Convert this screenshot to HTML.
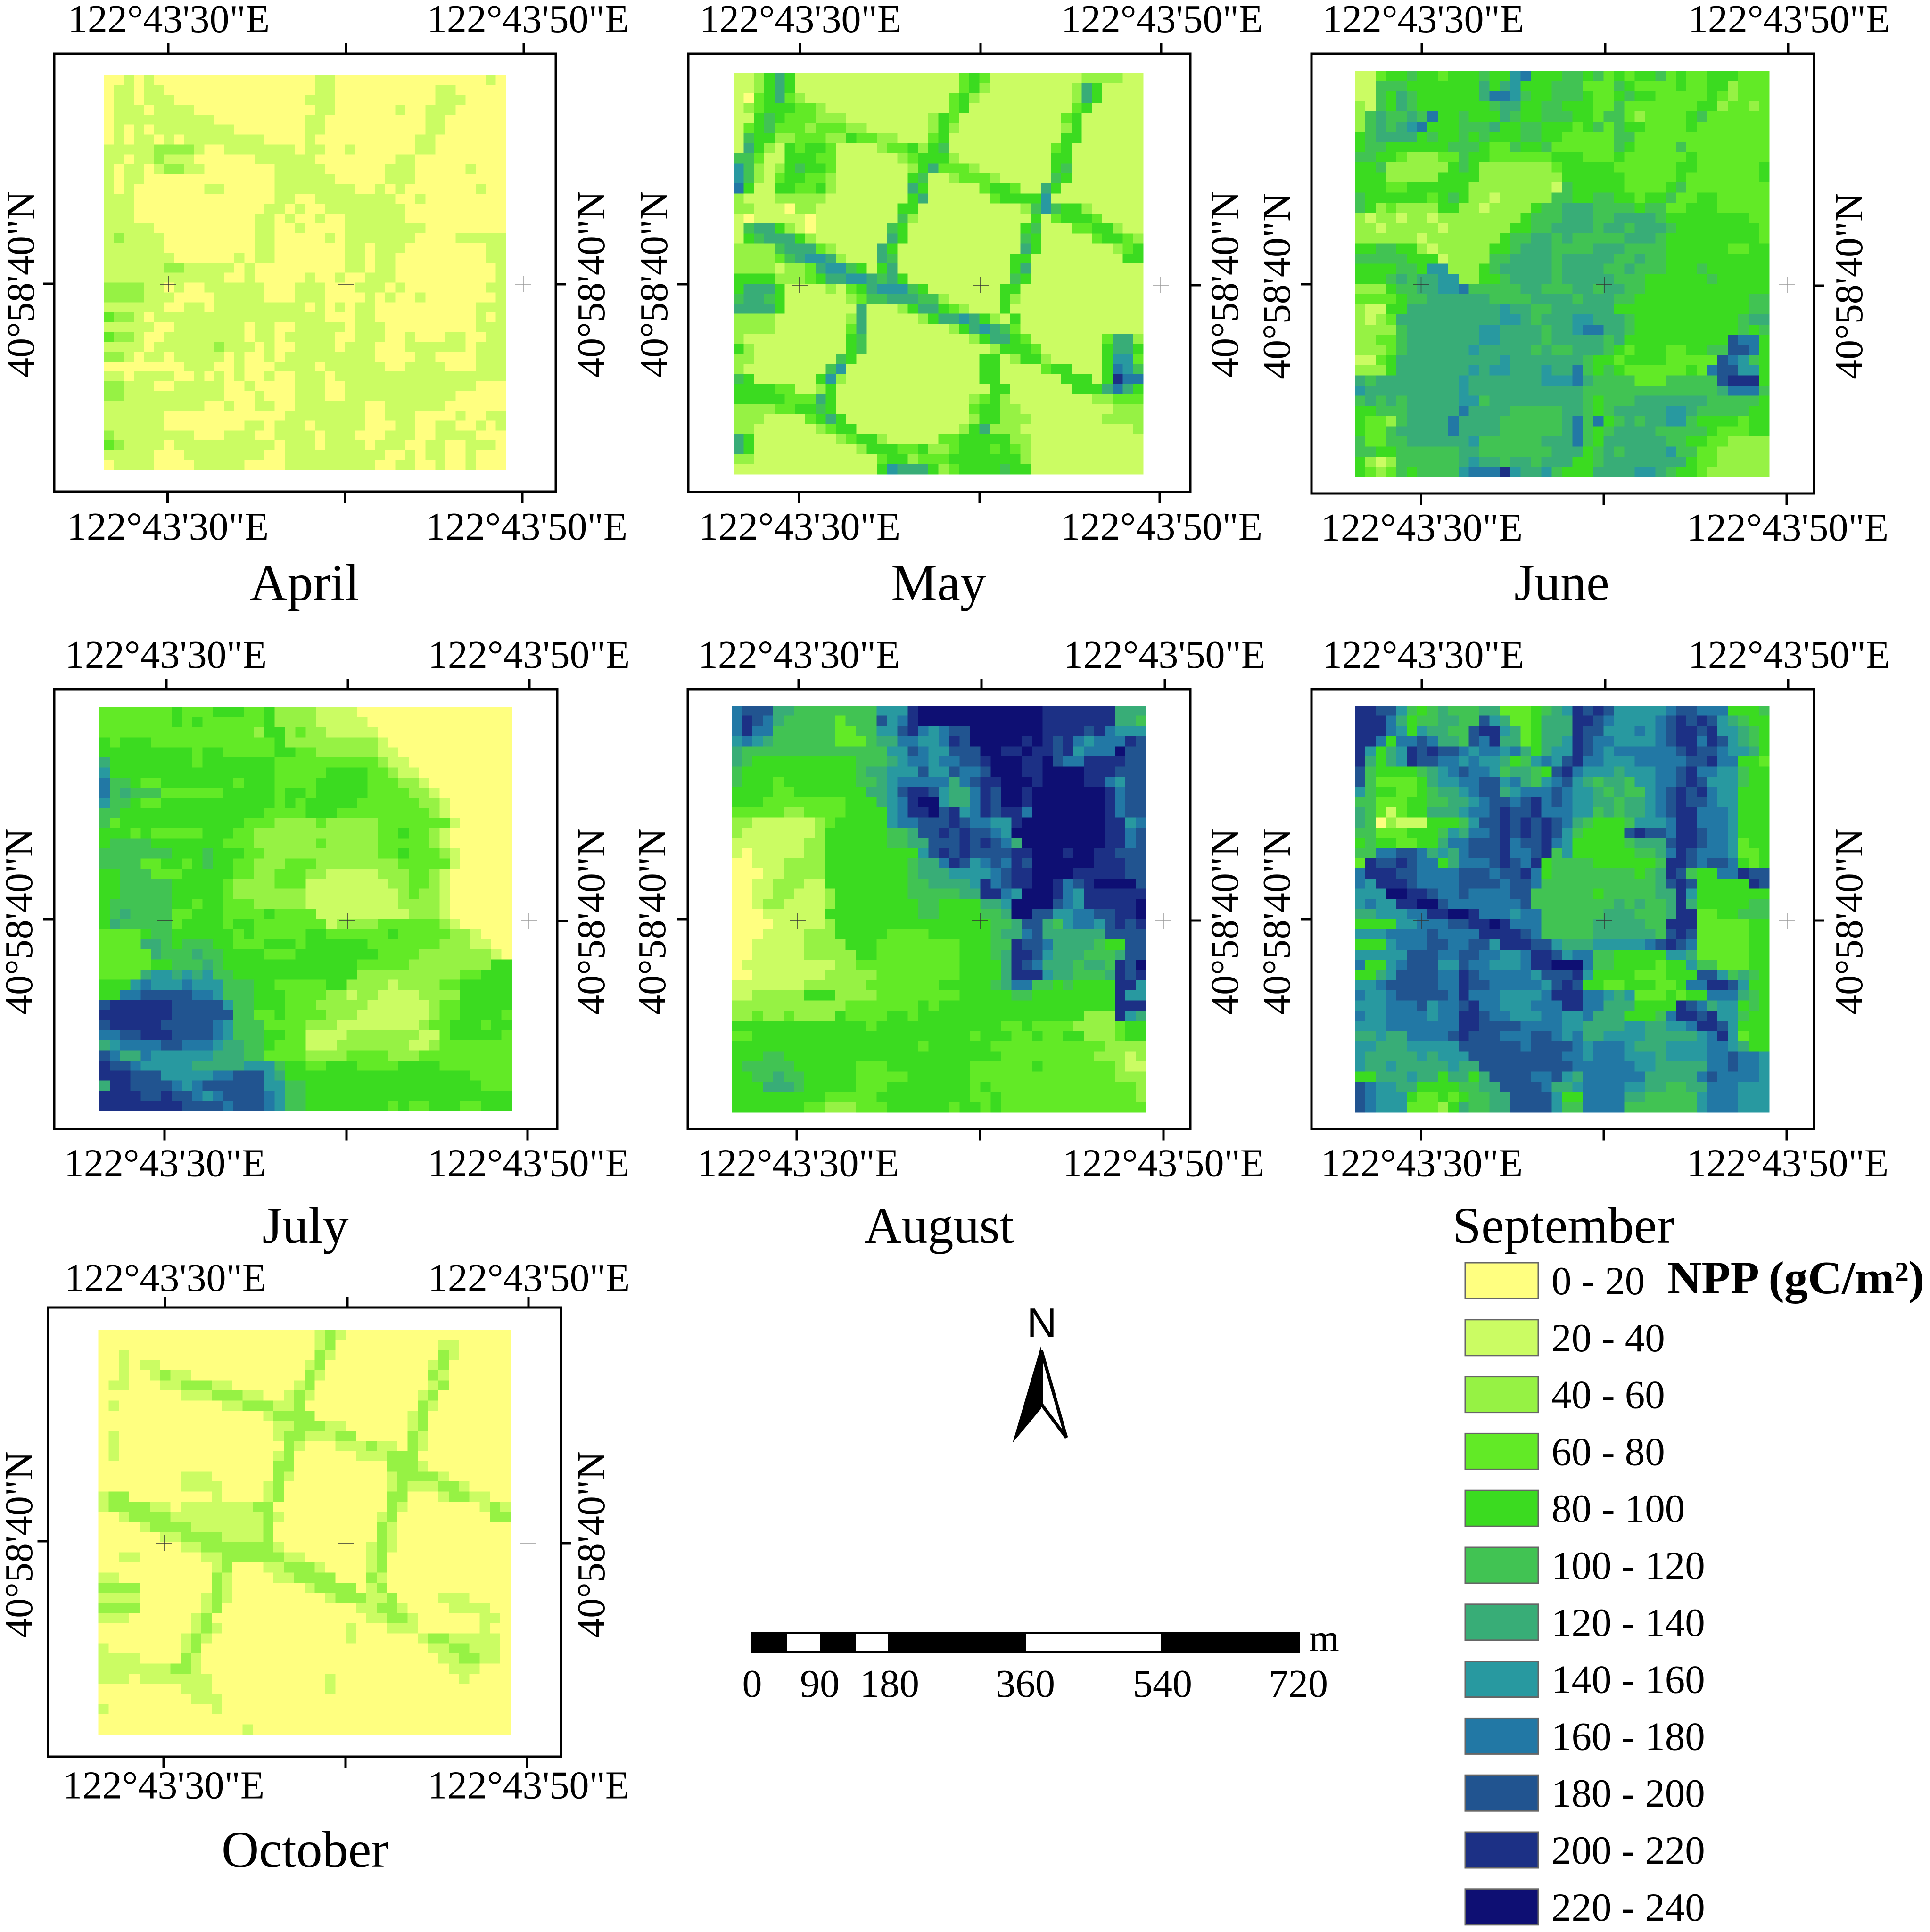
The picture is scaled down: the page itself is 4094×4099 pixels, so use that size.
<!DOCTYPE html>
<html lang="en">
<head>
<meta charset="utf-8">
<title>Monthly NPP maps</title>
<style>
html,body{margin:0;padding:0;background:#fff;}
svg{display:block;}
text{font-family:"Liberation Serif",serif;fill:#000;}
</style>
</head>
<body>
<svg id="chart" xmlns="http://www.w3.org/2000/svg" width="4094" height="4099" viewBox="0 0 4094 4099"></svg>
<script>
const classColors = ['#FFFF80','#CBFC63','#96F244','#62EA26','#3BDB20','#41C353','#38AD77','#2899A0','#2278A5','#215490','#1C3085','#0E0F73'];
const classLabels = ['0 - 20','20 - 40','40 - 60','60 - 80','80 - 100','100 - 120','120 - 140','140 - 160','160 - 180','180 - 200','200 - 220','220 - 240'];
const lonLabels = ['122°43\'30"E','122°43\'50"E'];
const latLabel = '40°58\'40"N';
const scaleLabels = ['0','90','180','360','540','720'];
const legendTitle = 'NPP (gC/m²)';

const aprilGrid = [
'0010100000 0000000000 0110000000 0000000010',
'0110110000 0000000000 0110000000 0001100000',
'0110111000 0000000000 1110000000 0001110000',
'0111011110 0000000000 0110000001 0011100000',
'0111111111 1000000000 1100000000 0011000000',
'0101011111 1110000000 1100000000 0011000000',
'0101101011 1111110000 1000000000 0110000000',
'1111122221 0011111110 1100100000 0110000000',
'1101121110 0000011111 1000000001 1000000000',
'1011012211 0000000111 1100000011 1000001000',
'1011000000 0000000111 1110000011 1000000000',
'1010000000 1100000111 1111100101 0000000100',
'1110000000 0000000110 0111111110 0100000000',
'1110000000 0000001101 0011111111 0000000000',
'1110000000 0000011010 0100111111 0000000000',
'1111100000 0000011001 0000111111 1100000000',
'1211110000 0000011000 0010111111 1000011111',
'1111110000 0000011000 0000110111 0000000011',
'1111111000 0001011000 0000110110 0000000011',
'1111112211 1110100000 0000110110 0000000001',
'1111111111 1100100000 1001001110 0000000001',
'2222110100 1111110001 1100011101 0000000011',
'2222111000 0111110001 1100001010 0100000001',
'1111110011 0111111111 0101011000 0000000111',
'3221011111 1111111111 1100011000 0000000101',
'1111100111 1111011001 1111011100 0000000111',
'3221001111 1111011011 1110011100 1000110011',
'1111011111 1211101001 1110111000 1111110111',
'2210110111 1101001011 1111111000 0110000111',
'0000000011 1001000111 1011111100 1111000111',
'1101111001 0101001001 1101111111 1111111111',
'2211100111 1100100001 1100111111 1111111000',
'2211111111 1100010001 1100111111 1111100000',
'1111111111 0010011001 1111110011 1111000000',
'1111110000 0000000011 1111110011 1000010011',
'1111110000 0000110111 0111110001 1001100101',
'2111111110 0011100111 1011100011 1001111000',
'3211110111 1111111011 1011110111 0011001110',
'1111100011 1111110011 1111111100 1011001000',
'0111100001 1111000011 1111111001 1001001000',
];

const mayGrid = [
'1124641111 1111111111 1134311111 1111222211',
'1124641111 1111111111 1134211111 1112641111',
'1034632111 1111111111 1342111111 1112641111',
'1234443321 1111111111 1341111111 1113411111',
'1145433322 2111111112 4311111111 1134111111',
'1345333233 3221111112 4211111111 1124111111',
'1544223332 2433221113 4111111111 1144111111',
'1642143443 1111233424 5111111111 1341111111',
'5531144433 1111112344 4211111111 1441111111',
'7521245443 1111111246 3332111111 1451111111',
'7521344332 1111111451 1233321111 1541111111',
'8411443342 1111111641 1111344311 6411111111',
'2111222221 1111111461 1111134444 7111111111',
'2211102211 1111114411 1111111125 7544211111',
'1011111011 1111115211 1111111114 1344431111',
'1566421011 1111154111 1111111145 1113344211',
'1456664211 1111164111 1111111154 1111134432',
'2222566632 1111641111 1111111164 1111111234',
'2222356776 2111651111 1111111441 1111111144',
'2222122367 7541461111 1111111461 1111111111',
'4444222346 6776564111 1111111541 1111111111',
'4666411112 1346777541 1111114411 1111111111',
'5665411111 1235566655 2111114211 1111111111',
'6666411111 1161112466 4321114111 1111111111',
'2222111111 1261111124 6676421411 1111111111',
'2222111111 1361111111 1246765311 1111111111',
'2111111111 1451111111 1112466431 1111113662',
'4211111111 1451111111 1111124443 1111114664',
'2211111111 5411111111 1111441244 2111114773',
'2111111115 7111111111 1111441111 3441114875',
'5411111147 2111111111 1111441111 1144414a88',
'4444331124 1111111111 1111144111 1114446864',
'4444433364 1111111111 1112342111 1111122333',
'2222334454 1111111111 1113442211 1111111222',
'2221111346 4111111111 1112442221 1111112222',
'2211111123 4411111111 1124622211 1111111112',
'6411111111 2344211111 3344444221 1111111111',
'6411111111 1124443342 2344434321 1111111111',
'2211111111 1111344233 3444444421 1111111111',
'1111111111 1111476664 2344445441 1111111111',
];

const juneGrid = [
'1134454434 4454478444 5545343445 3433444333',
'1155544444 4464674445 5533354333 3433442333',
'1154654444 4468875445 5543345443 3333432333',
'2154654444 4445664455 4443353333 3334423323',
'2565565844 5444654455 5443553233 3345333333',
'2565678444 5556445544 4345354433 3343333333',
'4566664544 5454445544 3333355333 3333333333',
'4554444445 5543354453 3333354333 3533333333',
'5544322233 5443333334 4433343333 3343333333',
'4452222224 5422222223 4444433333 3443333334',
'4442222244 4422222222 4444443333 3433333334',
'4443344444 4222222221 5444443333 4533333333',
'5444444345 4221222225 5445544344 5334433333',
'5423222244 2212222455 6665555455 3344433333',
'2122122122 2222224555 6665566665 4444444433',
'2212222212 2222244556 6665665666 5444444443',
'2222221222 2222455665 6555556665 4444444443',
'4455442122 2224456665 5556665555 4444443344',
'5555544412 2225566665 6666655655 4444444444',
'4444554772 2245666665 6666556555 4445444444',
'4445656677 2244566665 6666655544 4444544444',
'2224556677 8555556655 5665665544 4444444444',
'3333455666 6665555666 6566655444 4444444455',
'2114466666 6666766556 6666644444 4444444455',
'2123666666 6666776566 6776665444 4444444566',
'2222566666 6677666656 6788665444 4444444545',
'2233566666 6677666656 6666564444 4444449884',
'2223566666 6766666565 5666543444 3344559984',
'1134666666 6666766666 6654434444 3333398754',
'2224666666 6767766676 6854543333 3343899774',
'6566666666 7666666677 7865555333 555559aaa4',
'7666666666 7666666666 6655555555 5555568885',
'5656566666 7756666666 6654555666 6666555554',
'4455566666 8666655555 6654566666 7765555544',
'4332566668 6666555555 6858456566 7754444344',
'4335666668 6666555555 6854566665 5555433344',
'5335566666 6755555566 6854666666 5544332222',
'5544555555 6655555556 6645656666 7553322222',
'4212555555 6766566566 6445666666 6643322222',
'4323545555 7888a76675 4446666776 5443222222',
];

const julyGrid = [
'3333333433 3444334222 2111100000 0000000000',
'3333333434 3333334222 2111110000 0000000000',
'3333333333 3333324423 2211111000 0000000000',
'4344433333 3333333422 2222222100 0000000000',
'4444444443 4433333443 3222222110 0000000000',
'6444444443 4444444333 3333333211 0000000000',
'7444444444 4444444333 3344443321 1000000000',
'8554334444 4443444333 3444443332 2100000000',
'8565553333 3344444344 3444443333 2210000000',
'7554334444 4444444343 4444433333 3221000000',
'5544444444 4444443333 4443333333 3321000000',
'5344444444 4444333222 2322222333 3333100000',
'4443433333 4443322222 2222222334 3321000000',
'4555544444 4433322222 2322222333 3321000000',
'5555555444 5444332222 2222222334 3332100000',
'5555334434 5443322233 3222222223 3333100000',
'4455533344 4443322333 2211111222 3321000000',
'4455555444 4432222333 1111111122 3321000000',
'4455555444 4432222222 1111111112 3221000000',
'4555555443 4433322222 1111111112 2221000000',
'4565555334 4433334333 3111111111 2221000000',
'4655555344 4434433333 3312222333 3332100000',
'3333455444 4443433333 4433333343 3333221000',
'3333665455 5443334443 4444443333 3332221100',
'3333365556 5544443334 4444444333 3222222210',
'3333344555 6544444444 4444433333 2222222244',
'3333677676 7554444444 4444422222 2222233444',
'4447877787 7755544333 3344222212 2223344444',
'4488999998 8755544433 3322122111 1222244444',
'9aaaaaa999 9975544433 3222221111 1123344444',
'aaaaaaa999 9995533433 3322211111 1123344443',
'9aaaaa9999 9875553333 2221111111 1233444344',
'8899aaa999 9875554433 1111222222 2113444443',
'6788889988 8766554333 1112222222 1123333333',
'9866877777 7666553333 2222333322 2333333333',
'a998777776 6666777544 3344433334 4443333333',
'aaa9997777 7889997644 4444444444 4444443333',
'6aa9999878 9999997755 4444444444 4444444333',
'aaaa99a998 7899998755 4444444444 4444444444',
'aaaaaaaa99 9989998755 4444444434 3344433444',
];

const augustGrid = [
'8999665555 5555777abb bbbbbbbbbb aaaaaaa666',
'8a98655555 3555978abb bbbbbbbbbb aaaaaaa665',
'8a88555555 3355779a87 899bbbbbbb aaaa9a8777',
'7876555555 3335668877 8a9bbbbbab a9a87888a9',
'6555555555 5555577987 7999bbaaba a9a7888b99',
'6544444444 4455567887 8899abbbaa b988aaaa99',
'5444444444 4456677797 79889bbbaa bbbbaaa999',
'5444344444 4455678888 8689aabbba bbbbaa8799',
'4444334444 4446679aa9 7668a9bbab bbbbbba899',
'4443333333 3444678abb 7668a9bbab bbbbbba899',
'3333322333 3444478aab 9a78a9aa8b bbbbbba899',
'2211111123 4444478899 9a98877abb bbbbbbaa78',
'2111111124 4444455699 a9a9987bbb bbbbbbaa89',
'1111111224 4444455669 99a9a986bb bbbbbbaa89',
'1011111224 4444444479 a9a9999aab bbabbaa999',
'0011122224 4444444566 8a97898a9b bbbbbaaa99',
'0001122224 4444444566 6777789aab bbbaaaaa99',
'0011222114 4444444556 6667a89aab ba89abbbb9',
'0011221112 4444444555 5566aa87bb ba87aaaaaa',
'0012211112 4444444455 4444667bbb b987aaaaab',
'0001111114 4444444455 4444556bb9 9778899aab',
'0000111112 4444444444 4444455699 6578879a9a',
'0001111222 4444433334 4444456689 6666669999',
'0011111222 2444333333 3344455a99 8666654499',
'0011111222 2244333333 3344456aa9 7666555699',
'0111111111 2233333333 3344446a98 6665665a9b',
'0011111112 2222333333 3344446aaa 7665556a9a',
'1111111222 2223333333 4444456885 5454444aa7',
'1122222444 2222333333 3344444554 4444444a77',
'2222222222 2333333343 4444444444 4444444aaa',
'2232232222 4333344344 4444444444 4444222a76',
'4444444444 4443444444 4444443343 3332222344',
'3344444444 4444444444 4443444334 3344222344',
'4444444444 4444444434 4444433333 3333332222',
'4445544444 4444444444 4444443333 3333322212',
'4555554444 4433344444 4443333334 3333333211',
'4455655444 4433333444 4443333333 3333333222',
'4446665444 4433344444 4443433333 3333333332',
'4444444443 3333444444 4443343333 3333333332',
'4444444332 2233344444 4344343333 3333333333',
];

const septGrid = [
'aa99754565 5566333456 7a9a977777 8998884445',
'aaa8645566 5597633466 6aa9877778 9a9a976544',
'aaa8747665 59aa763466 6a99777878 9aa9a77654',
'aa84889866 598a663466 7a98877778 9aa8a97654',
'a7467a9a99 8788786467 7a98788888 89a9987764',
'a6467a9988 7877645787 9a88777888 8899a88443',
'9544445678 9887566549 a877767778 89a8877544',
'9533334677 8899786578 9765665778 89a9777544',
'7544334566 7899678889 8776565578 9a9a877444',
'5533344556 6789989a89 8776656678 9a99877444',
'6531344666 7889a99a88 8775656678 9aa8887444',
'6502111444 5799a9a9a9 8654445777 8aa8887444',
'5533344457 6889a9a9a9 7544449a99 8aa9887444',
'4544334468 8999a899a8 7444445666 9aa9887344',
'5588998676 8999a889a5 7444444556 8a98887334',
'3a99a98846 8889a98a45 5554444445 aa98998434',
'8aaa998888 999899a845 5555555456 a954488a99',
'87aaa98888 9999899855 5555555556 9a944444a9',
'777bbaa988 9888899555 5554555556 6a74444444',
'7877aabb98 8888889555 5555565655 6a64444455',
'6677788aab ba88878855 5555666555 6aa3344555',
'4444778889 9aaba88855 5556666655 aaa3333344',
'7778888988 88aaaa9855 5556666665 9a93333344',
'4447888998 8997aaa997 6667777789 a983333344',
'7777799988 9988778aa9 7885544444 7763333344',
'8447899977 9887778aab bb85544443 4475533344',
'4467999988 a988888799 9a74444333 4449975654',
'7789999988 a998888879 a944334443 3488aa9744',
'8778999998 a88877778a aa88767333 4344888654',
'7778889788 9a88777888 aa88666444 4a98677454',
'8778888788 aa98877788 7786664445 8aa9a77544',
'7778888888 aa99998888 7766667766 778aa97444',
'6676688889 a999888998 7866777766 66678a7344',
'7766677777 9999998999 9878887666 7777887644',
'7666667677 7999999999 8878887776 7777889887',
'7667666667 6699999999 9888888776 6666889887',
'4466676646 6469999889 7688888866 6668988887',
'9877664444 5566999986 6788887766 5566888777',
'9877743343 4556699997 4488886655 5557888777',
'9877733324 6556699997 5588885555 5557888777',
];

const octoberGrid = [
'0000000000 0000000000 0121000000 0000000000',
'0000000000 0000000000 0120000000 0001100000',
'0010000000 0000000000 0210000000 0002100000',
'0010110000 0000000000 1200000000 0012000000',
'0010012110 0000000000 2100000000 0021000000',
'0110001122 2110000001 2000000000 0012000000',
'0000000011 1222110012 1000000000 0120000000',
'0100000000 0011222112 0000000000 0210000000',
'0000000000 0000001222 2000000000 1200000000',
'0000000000 0000000112 2211000000 1200000000',
'0100000000 0000000122 1112200000 2100000000',
'0100000000 0000000021 0001112110 2100000000',
'0100000000 0000000120 0000011122 2000000000',
'0000000000 0000000220 0000000022 2100000000',
'0000000011 1000000210 0000000012 2221000000',
'0000000011 1100001200 0000000012 1112210000',
'1220000000 0100001200 0000000022 0001221100',
'1222211011 1111122000 0000000021 0000000121',
'0012222111 1111112100 0000000120 0000000022',
'0000122221 1111112000 0000000210 0000000000',
'0000001122 2211112000 0000000210 0000000000',
'0000000011 2222222100 0000001210 0000000000',
'0011000000 1122222211 0000001200 0000000000',
'0000000000 0120001122 2100001200 0000000000',
'1100000000 0210000112 2220002100 0000000000',
'2222000000 0210000000 1222201200 0000000000',
'1111000000 1210000000 0012221120 0001110000',
'2222000000 1200000000 0000011221 0000111100',
'1110000001 2000000000 0000001122 1000000110',
'0000000001 2100000000 0000100011 1000000100',
'0000000012 1000000000 0000100000 0122111110',
'1000000012 0000000000 0000000000 0011221110',
'1111000021 0000000000 0000000000 0001122110',
'1111111221 0000000000 0000000000 0000111000',
'1110111111 1000000000 0010000000 0000010000',
'0000000011 1000000000 0010000000 0000000000',
'0000000001 1100000000 0000000000 0000000000',
'1000000000 0100000000 0000000000 0000000000',
'0000000000 0000000000 0000000000 0000000000',
'0000000000 0000100000 0000000000 0000000000',
];

const panelLayouts = [
 {name:'april',title:'April',grid:aprilGrid,frame:[115,1179,114,1043],raster:[220,1073,160,997],top:[357,734,1111],bot:[355.5,732,1108],cross:[357,734,1110],crossY:603,tickL:602,tickR:603,topLab:[358,1120],botLab:[356,1117],topBase:68,botBase:1145,rotL:72,rotR:1282,rotY:603,titleX:646,titleBase:1273},
 {name:'may',title:'May',grid:mayGrid,frame:[1460,2525,114,1044],raster:[1556,2425,155,1006],top:[1697,2080,2463],bot:[1695,2078,2460],cross:[1696,2080,2462],crossY:605,tickL:603,tickR:605,topLab:[1698,2465],botLab:[1696,2464],topBase:68,botBase:1145,rotL:1415,rotR:2626,rotY:603,titleX:1991,titleBase:1273},
 {name:'june',title:'June',grid:juneGrid,frame:[2782,3848,114,1047],raster:[2874,3753,150,1012],top:[3016,3405,3793],bot:[3014.5,3402,3790],cross:[3014.5,3403,3791],crossY:604,tickL:603,tickR:606,topLab:[3019,3795],botLab:[3016,3792],topBase:68,botBase:1147,rotL:2736,rotR:3950,rotY:607,titleX:3313,titleBase:1273},
 {name:'july',title:'July',grid:julyGrid,frame:[115,1182,1462,2395.5],raster:[211,1085.5,1500,2357],top:[353,738,1123],bot:[349,735,1119],cross:[350,737,1122],crossY:1953,tickL:1950,tickR:1954,topLab:[352,1122],botLab:[350,1121],topBase:1417,botBase:2495.5,rotL:68,rotR:1282,rotY:1955,titleX:648,titleBase:2637},
 {name:'august',title:'August',grid:augustGrid,frame:[1459,2525,1462,2395.5],raster:[1552,2431,1497,2360],top:[1694,2082,2471],bot:[1690,2079,2468],cross:[1692,2079,2468],crossY:1953,tickL:1950,tickR:1953,topLab:[1695,2470],botLab:[1693,2468],topBase:1417,botBase:2495.5,rotL:1411,rotR:2626,rotY:1955,titleX:1992,titleBase:2637},
 {name:'september',title:'September',grid:septGrid,frame:[2782,3848,1462,2395.5],raster:[2874,3753,1497,2360],top:[3016,3405,3793],bot:[3014.5,3402,3790],cross:[3015,3403,3791],crossY:1953,tickL:1950,tickR:1953,topLab:[3019,3795],botLab:[3016,3792],topBase:1417,botBase:2495.5,rotL:2736,rotR:3950,rotY:1955,titleX:3316,titleBase:2637},
 {name:'october',title:'October',grid:octoberGrid,frame:[102.5,1190,2774,3727],raster:[208.5,1083,2821,3680],top:[350,737,1121],bot:[347,733,1118],cross:[348,734,1120],crossY:3274,tickL:3270,tickR:3274,topLab:[351,1122],botLab:[347,1121],topBase:2739,botBase:3815.5,rotL:68,rotR:1282,rotY:3277,titleX:647,titleBase:3961}
];

const NS = 'http://www.w3.org/2000/svg';
const svg = document.getElementById('chart');
function mk(tag, attrs, parent) {
  const el = document.createElementNS(NS, tag);
  for (const k in attrs) el.setAttribute(k, attrs[k]);
  (parent || svg).appendChild(el);
  return el;
}
function label(str, x, y, size, anchor, parent, rot) {
  const t = mk('text', {x:x, y:y, 'font-size':size, 'text-anchor':anchor}, parent);
  if (rot) t.setAttribute('transform', 'rotate(-90 ' + x + ' ' + y + ')');
  t.textContent = str;
  return t;
}
const classIndex = ch => parseInt(ch, 16);

panelLayouts.forEach(function (p) {
  const g = mk('g', {});
  
  

  const rows = p.grid.map(r => r.replace(/ /g, ''));
  const nRows = rows.length;
  const nCols = 40;
  const xScale = c => p.raster[0] + (p.raster[1] - p.raster[0]) * c / nCols;
  const yScale = r => p.raster[2] + (p.raster[3] - p.raster[2]) * r / nRows;
  const cells = mk('g', {'shape-rendering':'crispEdges'}, g);
  
  
  rows.forEach(function (row, r) {
    for (let c = 0; c < nCols; c++) {
      const ch = row[c] !== undefined ? row[c] : row[row.length - 1];
      const cell = mk('rect', {x:xScale(c), y:yScale(r), width:xScale(c + 1) - xScale(c) + 0.5, height:yScale(r + 1) - yScale(r) + 0.5, fill:classColors[classIndex(ch)]}, cells);
      
      
    }
  });

  const f = p.frame;
  const frame = mk('rect', {x:f[0], y:f[2], width:f[1] - f[0], height:f[3] - f[2], fill:'none', stroke:'#000', 'stroke-width':5}, g);
  
  

  const ticks = mk('g', {stroke:'#000', 'stroke-width':5}, g);
  
  
  p.top.forEach(x => mk('line', {x1:x, x2:x, y1:f[2] - 22, y2:f[2]}, ticks));
  p.bot.forEach(x => mk('line', {x1:x, x2:x, y1:f[3], y2:f[3] + 24}, ticks));
  mk('line', {x1:f[0] - 23, x2:f[0], y1:p.tickL, y2:p.tickL}, ticks);
  mk('line', {x1:f[1], x2:f[1] + 22, y1:p.tickR, y2:p.tickR}, ticks);

  const crosses = mk('g', {'stroke-width':1.5}, g);
  
  
  p.cross.forEach(function (x, i) {
    const col = i === 2 ? '#999' : '#333';
    mk('line', {x1:x - 17, x2:x + 17, y1:p.crossY, y2:p.crossY, stroke:col}, crosses);
    mk('line', {x1:x, x2:x, y1:p.crossY - 17, y2:p.crossY + 17, stroke:col}, crosses);
  });

  lonLabels.forEach(function (s, i) {
    const a = label(s, p.topLab[i], p.topBase, 84, 'middle', g);
    
    
    const b = label(s, p.botLab[i], p.botBase, 84, 'middle', g);
    
    
  });
  const ll = label(latLabel, p.rotL, p.rotY, 84, 'middle', g, true);
  
  
  const lr = label(latLabel, p.rotR, p.rotY, 84, 'middle', g, true);
  
  

  const tt = label(p.title, p.titleX, p.titleBase, 110, 'middle', g);
  
  
});

/* legend */
const legend = mk('g', {});


classColors.forEach(function (col, i) {
  const y = 2679 + i * 120.8;
  const sw = mk('rect', {x:3108, y:y, width:155, height:76, fill:col, stroke:'#666', 'stroke-width':3}, legend);
  
  
  const t = label(classLabels[i], 3291, 2746 + i * 120.8, 85, 'start', legend);
  
  
});
const lt = label(legendTitle, 3537, 2744, 99, 'start', legend);
lt.setAttribute('font-weight', 'bold');
lt.setAttribute('textLength', '545');
lt.setAttribute('lengthAdjust', 'spacingAndGlyphs');



/* north arrow */
const north = mk('g', {});


const nText = mk('text', {x:2210, y:2837, 'font-size':88, 'text-anchor':'middle', style:'font-family:"Liberation Sans",sans-serif'}, north);
nText.textContent = 'N';


mk('path', {d:'M2209 2865 L2262 3050 L2209 2979 Z', fill:'#fff', stroke:'#000', 'stroke-width':7, 'stroke-linejoin':'miter'}, north);
mk('path', {d:'M2209 2853 L2148 3061 L2209 2988 Z', fill:'#000'}, north);

/* scale bar */
const scale = mk('g', {});


mk('rect', {x:1594, y:3463, width:1163, height:44, fill:'#000'}, scale);
mk('rect', {x:1670, y:3467, width:69, height:35, fill:'#fff'}, scale);
mk('rect', {x:1815, y:3467, width:68, height:35, fill:'#fff'}, scale);
mk('rect', {x:2177, y:3467, width:286, height:35, fill:'#fff'}, scale);
const scaleLabelX = [1595.5, 1739, 1887, 2175, 2466, 2754];
scaleLabels.forEach(function (s, i) {
  const t = label(s, scaleLabelX[i], 3600, 84, 'middle', scale);
  
  
});
const unit = label('m', 2777, 3503, 82, 'start', scale);


</script>
</body>
</html>
